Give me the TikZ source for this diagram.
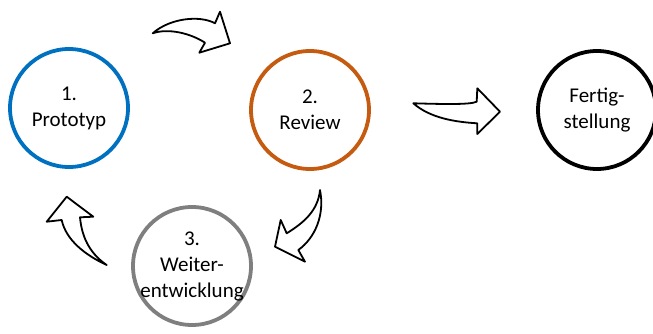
\documentclass[tikz,border=0pt]{standalone}
\usepackage{fontspec}
\setmainfont{Carlito}
\usepackage{tikz}
\usetikzlibrary{positioning}
\definecolor{proto}{HTML}{0070C0}
\definecolor{review}{HTML}{C55A11}
\definecolor{weiter}{HTML}{7F7F7F}

\tikzset{
  phase/.style={circle,draw,line width=3.8pt,minimum size=118pt,inner sep=-8pt,
    align=center,font=\fontsize{21}{26}\selectfont},
  blockarrow/.style={draw,fill=white,line width=1.8pt,line join=round}
}

\begin{document}
\begin{tikzpicture}[x=1pt,y=-1pt]
        \useasboundingbox (0,0) rectangle (653,334);
        \path
        % cycle
        (69,108) node[phase,draw=proto](proto) {1.\\Prototyp}
        (310,110) node[phase,draw=review](review) {2.\\Review}
        (192,266) node[phase,draw=weiter](weiter) {3.\\Weiter-\\entwicklung}
        % end
        (597,110) node[phase,draw=black](fertig) {Fertig-\\stellung}
        ;

        % Prototyp -> Review
        \draw[blockarrow] (152.7,33.3) .. controls (170,18) and (200,15) .. (215,23.3)
          -- (220,11.7) -- (230,43.3) -- (199.3,52.7) -- (205,42.7)
          .. controls (190,33) and (168,28) .. cycle;
        % Review -> Fertigstellung
        \draw[blockarrow] (413.3,103.3) .. controls (440,104) and (470,105) .. (476.7,101.7)
          -- (477.3,88.3) -- (500,111.7) -- (477.3,134) -- (477.3,123.3)
          .. controls (455,122) and (430,118) .. cycle;
        % Review -> Weiterentwicklung
        \draw[blockarrow] (320,190) .. controls (325,215) and (315,238) .. (298.3,250)
          -- (305,261.7) -- (275,246.7) -- (280.7,220) -- (286.7,233.3)
          .. controls (305,222) and (318,210) .. cycle;
        % Weiterentwicklung -> Prototyp
        \draw[blockarrow] (106.7,265) .. controls (85,255) and (66,240) .. (61.7,220)
          -- (46.7,221.7) -- (66.7,196.7) -- (93.3,216.7) -- (80,217.3)
          .. controls (82,240) and (92,255) .. cycle;
      \end{tikzpicture}
\end{document}
